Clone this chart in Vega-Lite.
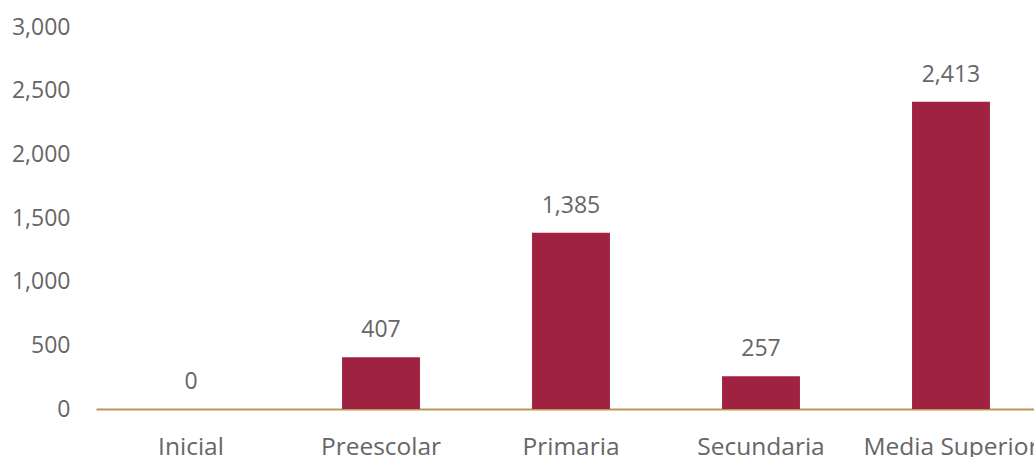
{
  "$schema": "https://vega.github.io/schema/vega-lite/v6.json",
  "autosize": "none",
  "padding": {"left": 96, "top": 27, "right": 0, "bottom": 48},
  "width": 950,
  "height": 382,
  "background": "white",
  "config": {"view": {"stroke": null}, "font": "Open Sans"},
  "data": {"values": [
    {"nivel": "Inicial", "valor": 0},
    {"nivel": "Preescolar", "valor": 407},
    {"nivel": "Primaria", "valor": 1385},
    {"nivel": "Secundaria", "valor": 257},
    {"nivel": "Media Superior", "valor": 2413}
  ]},
  "encoding": {
    "x": {"field": "nivel", "type": "nominal", "sort": null,
      "scale": {"paddingInner": 0.59, "paddingOuter": 0.295},
      "axis": {"title": null, "labelAngle": 0, "ticks": false, "domainColor": "#BC955C", "domainWidth": 2,
        "labelFontSize": 24.5, "labelColor": "#666666", "labelPadding": 26, "labelFont": "Open Sans"}},
    "y": {"field": "valor", "type": "quantitative",
      "scale": {"domain": [0, 3000], "nice": false},
      "axis": {"title": null, "grid": false, "domain": false, "ticks": false, "values": [0, 500, 1000, 1500, 2000, 2500, 3000],
        "format": ",.0f", "labelFontSize": 23, "labelColor": "#666666", "labelPadding": 26, "labelFont": "Open Sans"}}
  },
  "layer": [
    {"mark": {"type": "bar", "color": "#9F2241"}},
    {"mark": {"type": "text", "dy": -27, "fontSize": 23, "color": "#666666", "font": "Open Sans"},
      "encoding": {"text": {"field": "valor", "type": "quantitative", "format": ",.0f"}}}
  ]
}
